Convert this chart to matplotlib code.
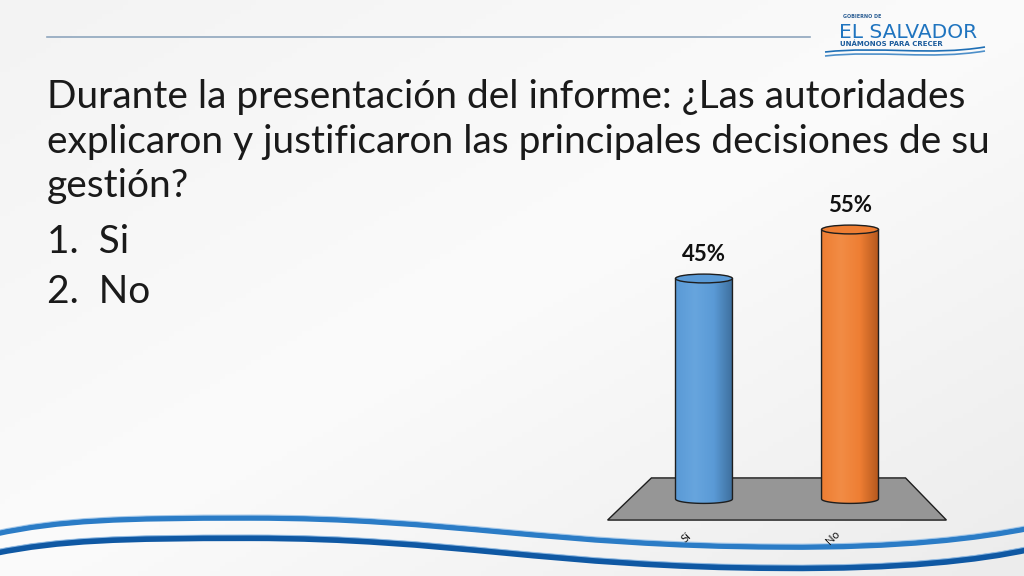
import numpy as np
import matplotlib.pyplot as plt
from matplotlib.colors import LinearSegmentedColormap
from matplotlib.patches import Ellipse, Polygon, PathPatch
from matplotlib.path import Path

# datos
categorias = ['Sí', 'No']
porcentajes = [45, 55]
etiquetas = ['45%', '55%']
colores = [('#5a9ad6', '#67a5de', '#3d6e9c'), ('#ee7e33', '#f28c45', '#b3571d')]

titulo_lineas = ['Durante la presentación del informe: ¿Las autoridades',
                 'explicaron y justificaron las principales decisiones de su',
                 'gestión?']
opciones = ['1.  Si', '2.  No']

fig = plt.figure(figsize=(10.24, 5.76), dpi=100)

# fondo de la diapositiva (coordenadas en pixeles)
bg = fig.add_axes([0, 0, 1, 1])
bg.set_xlim(0, 1024)
bg.set_ylim(576, 0)
bg.axis('off')
gx, gy = np.meshgrid(np.linspace(0, 1, 200), np.linspace(0, 1, 120))
fondo = LinearSegmentedColormap.from_list('fondo', ['#f3f3f3', '#fbfbfb', '#ececec'])
bg.imshow(0.5 * gx + 0.5 * gy, cmap=fondo, extent=(0, 1024, 576, 0), aspect='auto', zorder=0)

bg.plot([47, 810], [37, 37], color='#8fa6bd', lw=1.2, zorder=1)

# logo
bg.text(843, 17, 'GOBIERNO DE', fontsize=3.5, color='#2a5d93', fontweight='bold', va='center', family='DejaVu Sans')
bg.text(839, 32, 'EL SALVADOR', fontsize=14.5, color='#1f74bf', va='center', family='Liberation Sans Narrow')
bg.text(840, 44, 'UNÁMONOS PARA CRECER', fontsize=5.0, color='#1c5c9c', fontweight='bold', va='center', family='DejaVu Sans')
for dy, c in [(0, '#1f6fb5'), (4, '#4d8fc9')]:
    p = Path([(825, 52 + dy), (880, 46 + dy), (930, 56 + dy), (985, 47 + dy)],
             [Path.MOVETO, Path.CURVE4, Path.CURVE4, Path.CURVE4])
    bg.add_patch(PathPatch(p, fill=False, color=c, lw=1.2, zorder=2))

# ondas inferiores
codes = [Path.MOVETO] + [Path.CURVE4] * 9
onda1 = [(-5, 534), (60, 520), (120, 518), (250, 518), (450, 518), (550, 546), (780, 547),
         (900, 548), (980, 538), (1030, 528)]
onda2 = [(-5, 553), (60, 540), (120, 538), (250, 538), (450, 538), (550, 567), (780, 568),
         (900, 569), (980, 560), (1030, 549)]
for pts, c, lw in [(onda1, '#2b7cc6', 4), (onda2, '#0f58a3', 4.5)]:
    bg.add_patch(PathPatch(Path(pts, codes), fill=False, color=c, lw=lw, capstyle='round', zorder=2))
    bg.add_patch(PathPatch(Path([(x, y - 3) for x, y in pts], codes), fill=False,
                           color='#9cc4ea', lw=0.8, alpha=0.8, zorder=2))

# textos
for k, linea in enumerate(titulo_lineas):
    bg.text(47, 108 + 44.5 * k, linea, fontsize=28, family='Lato',
            color='#1a1a1a', va='baseline')
for k, op in enumerate(opciones):
    bg.text(47, 253 + 50 * k, op, fontsize=28, family='Lato',
            color='#1a1a1a', va='baseline')

# grafico
ax = fig.add_axes([600 / 1024, (576 - 548) / 576, 360 / 1024, (548 - 190) / 576])
ax.set_xlim(-0.712, 1.753)
ax.set_ylim((499 - 548) / 4.9, (499 - 190) / 4.9)
ax.axis('off')
x = np.arange(len(categorias))
ancho = 0.39
eh = 1.8

# piso
y_piso = 4.3
piso = Polygon([(x[0] - 0.36, y_piso), (x[-1] + 0.38, y_piso),
                (x[-1] + 0.66, -y_piso), (x[0] - 0.66, -y_piso)],
               closed=True, facecolor='#969696', edgecolor='#1e1e1e', lw=1, zorder=1)
ax.add_patch(piso)

t = np.linspace(np.pi, 2 * np.pi, 40)
for xi, v, (base, claro, oscuro), lab in zip(x, porcentajes, colores, etiquetas):
    x0, x1 = xi - ancho / 2, xi + ancho / 2
    contorno = [(x0, v)] + [(xi + ancho / 2 * np.cos(a), eh / 2 * np.sin(a)) for a in t] + [(x1, v)]
    cuerpo = Polygon(contorno, closed=True, facecolor='none', edgecolor='#1e1e1e', lw=1, zorder=4)
    ax.add_patch(cuerpo)
    cmap = LinearSegmentedColormap.from_list('c', [base, claro, base, oscuro], N=256)
    img = ax.imshow(np.linspace(0, 1, 256)[None, :], cmap=cmap, aspect='auto',
                    extent=(x0, x1, -eh, v + eh), zorder=3)
    img.set_clip_path(cuerpo)
    ax.add_patch(Ellipse((xi, v), ancho, eh, facecolor=base, edgecolor='#1e1e1e', lw=1, zorder=5))
    ax.text(xi, v + 4.8, lab, ha='center', va='center', fontsize=16, fontweight='bold',
            family='Lato', color='#111111')

for xi, cat in zip(x, categorias):
    ax.text(xi - 0.12, -7.8, cat, rotation=45, ha='center', va='center', fontsize=8,
            family='Lato', color='#111111')

fig.savefig('out.png', dpi=100)
